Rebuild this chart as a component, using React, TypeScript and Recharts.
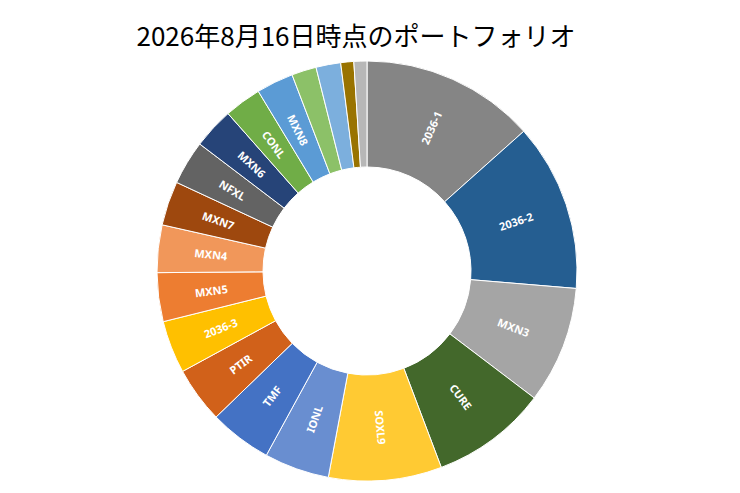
import { PieChart, Pie, Cell } from "recharts";

const categories = [
  "2036-1", "2036-2", "MXN3", "CURE", "SOXL9", "IONL", "TMF", "PTIR", "2036-3", "MXN5",
  "MXN4", "MXN7", "NFXL", "MXN6", "CONL", "MXN8", "", "", "", "",
];
const shares = [
  13.4, 12.9, 9.0, 8.9, 8.7, 5.0, 4.8, 4.3, 4.05, 3.75,
  3.65, 3.4, 3.4, 3.15, 2.85, 2.85, 1.9, 1.9, 1.0, 1.0,
];
const colors = [
  "#858585", "#255E91", "#A5A5A5", "#43682B", "#FFCA33", "#698ED0", "#4472C4", "#D1611A", "#FFC000", "#ED7D31",
  "#F1975A", "#9E480E", "#636363", "#264478", "#70AD47", "#5B9BD5", "#8CC168", "#7CAFDD", "#997300", "#B7B7B7",
];

const data = categories.map((name, i) => ({ name, value: shares[i] }));

const RAD = Math.PI / 180;

function renderLabel(props: any) {
  const { cx, cy, midAngle, innerRadius, outerRadius, name } = props;
  if (!name) return null;
  const r = (innerRadius + outerRadius) / 2;
  const x = cx + r * Math.cos(-midAngle * RAD);
  const y = cy + r * Math.sin(-midAngle * RAD);
  // clockwise angle from 12 o'clock
  const theta = (((90 - midAngle) % 360) + 360) % 360;
  const rot = theta < 180 ? theta - 90 : theta - 270;
  return (
    <text
      x={x}
      y={y}
      fill="#fff"
      fontSize={11}
      fontWeight={700}
      fontFamily="'Noto Sans', sans-serif"
      textAnchor="middle"
      dominantBaseline="central"
      transform={`rotate(${rot} ${x} ${y})`}
    >
      {name}
    </text>
  );
}

export default function App() {
  return (
    <div style={{ position: "absolute", left: 0, top: 0, width: 740, height: 493, background: "#fff" }}>
      <div
        style={{
          position: "absolute",
          left: 0,
          top: 16,
          width: 712,
          textAlign: "center",
          fontFamily: "'Noto Sans CJK JP', sans-serif",
          fontSize: 26,
          color: "#000",
          lineHeight: "38px",
        }}
      >
        2026年8月16日時点のポートフォリオ
      </div>
      <PieChart width={740} height={493} margin={{ top: 0, right: 0, bottom: 0, left: 0 }}>
        <Pie
          data={data}
          dataKey="value"
          nameKey="name"
          cx={367}
          cy={271}
          innerRadius={104}
          outerRadius={210}
          startAngle={90}
          endAngle={-270}
          stroke="#fff"
          strokeWidth={1}
          label={renderLabel}
          labelLine={false}
          isAnimationActive={false}
        >
          {data.map((d, i) => (
            <Cell key={i} fill={colors[i]} />
          ))}
        </Pie>
      </PieChart>
    </div>
  );
}
